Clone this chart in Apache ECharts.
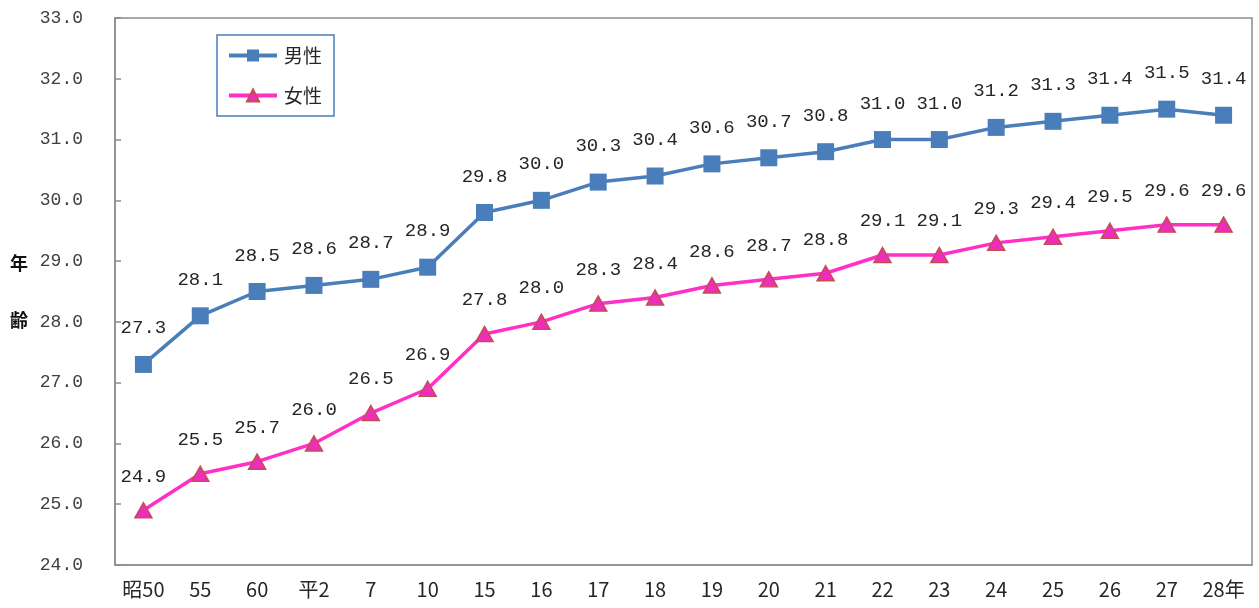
<!DOCTYPE html>
<html>
<head>
<meta charset="utf-8">
<script src="https://cdn.jsdelivr.net/npm/echarts@6/dist/echarts.min.js"></script>
<style>
  html, body { margin: 0; padding: 0; background: #fff; }
  #chart { width: 1259px; height: 608px; }
</style>
</head>
<body>
<div id="chart"></div>
<script>
// 平均初婚年齢の推移（男女別）
const categories = ['昭50', '55', '60', '平2', '7', '10', '15', '16', '17', '18', '19', '20', '21', '22', '23', '24', '25', '26', '27', '28年'];
const maleAge   = [27.3, 28.1, 28.5, 28.6, 28.7, 28.9, 29.8, 30.0, 30.3, 30.4, 30.6, 30.7, 30.8, 31.0, 31.0, 31.2, 31.3, 31.4, 31.5, 31.4];
const femaleAge = [24.9, 25.5, 25.7, 26.0, 26.5, 26.9, 27.8, 28.0, 28.3, 28.4, 28.6, 28.7, 28.8, 29.1, 29.1, 29.3, 29.4, 29.5, 29.6, 29.6];
const seriesNames = ['男性', '女性'];
const axisTitle = '年\n齢';

const numFont = '"Liberation Mono", "DejaVu Sans Mono", monospace';
const cjkFont = '"Noto Sans CJK JP", sans-serif';
const axisGray = '#8c8c8c';
const textColor = '#262626';

const chart = echarts.init(document.getElementById('chart'), null, { renderer: 'canvas' });

chart.setOption({
  animation: false,
  backgroundColor: '#ffffff',
  grid: {
    left: 115, right: 7, top: 18, bottom: 43,
    show: true, borderColor: axisGray, borderWidth: 1.5, backgroundColor: 'transparent'
  },
  legend: {
    data: seriesNames,
    orient: 'vertical',
    left: 217, top: 35,
    width: 118,
    itemWidth: 48, itemHeight: 15,
    itemGap: 21,
    padding: [11, 12, 11, 10],
    borderColor: '#4a7ebb', borderWidth: 1.5,
    backgroundColor: '#fff',
    lineStyle: { width: 4 },
    textStyle: { fontFamily: cjkFont, fontSize: 19, color: textColor, padding: [0, 0, 0, 2] }
  },
  xAxis: {
    type: 'category',
    data: categories,
    boundaryGap: true,
    axisLine: { lineStyle: { color: axisGray, width: 1.5 } },
    axisTick: { inside: true, length: 6, lineStyle: { color: axisGray, width: 1.5 } },
    axisLabel: {
      interval: 0, margin: 14,
      fontFamily: cjkFont, fontSize: 20, color: textColor
    },
    splitLine: { show: false }
  },
  yAxis: {
    type: 'value',
    min: 24, max: 33, interval: 1,
    name: axisTitle,
    nameLocation: 'middle',
    nameRotate: 0,
    nameGap: 87,
    nameTextStyle: { fontFamily: cjkFont, fontSize: 18, fontWeight: 'bold', color: '#111', lineHeight: 57 },
    axisLine: { show: true, lineStyle: { color: axisGray, width: 1.5 } },
    axisTick: { show: true, inside: true, length: 6, lineStyle: { color: axisGray, width: 1.5 } },
    axisLabel: {
      margin: 32,
      fontFamily: numFont, fontSize: 18, color: '#404040',
      formatter: v => v.toFixed(1)
    },
    splitLine: { show: false }
  },
  series: [
    {
      name: seriesNames[0],
      type: 'line',
      data: maleAge,
      symbol: 'rect',
      symbolSize: 17,
      lineStyle: { color: '#4a7ebb', width: 3.5 },
      itemStyle: { color: '#4a7ebb', borderColor: '#4a7ebb', borderWidth: 0 },
      label: {
        show: true, position: 'top', distance: 18,
        fontFamily: numFont, fontSize: 19, color: textColor,
        formatter: p => p.value.toFixed(1)
      },
      z: 3
    },
    {
      name: seriesNames[1],
      type: 'line',
      data: femaleAge,
      symbol: 'triangle',
      symbolSize: [17, 15],
      lineStyle: { color: '#ff2fc8', width: 3.5 },
      itemStyle: { color: '#f02cbc', borderColor: '#c0504d', borderWidth: 1.5 },
      label: {
        show: true, position: 'top', distance: 16,
        fontFamily: numFont, fontSize: 19, color: textColor,
        formatter: p => p.value.toFixed(1)
      },
      z: 2
    }
  ]
});
</script>
</body>
</html>
